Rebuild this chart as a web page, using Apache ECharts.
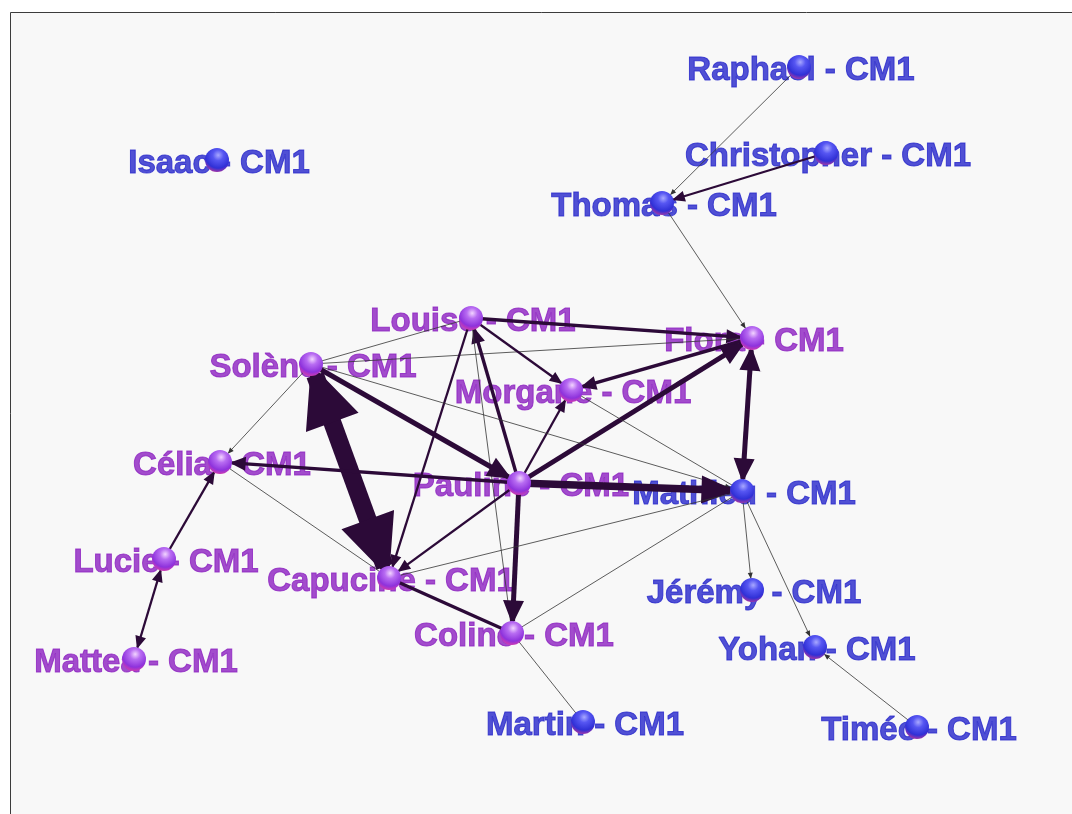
<!DOCTYPE html>
<html><head><meta charset="utf-8">
<script src="https://cdn.jsdelivr.net/npm/echarts@6/dist/echarts.min.js"></script>
<style>html,body{margin:0;padding:0;background:#ffffff;}#c{width:1072px;height:814px;}</style>
</head><body><div id="c"></div>
<script>
// ---- data ----
const nodeNames = ['Raphael - CM1','Isaac - CM1','Christopher - CM1','Thomas - CM1','Louise - CM1','Flora - CM1',
  'Solène - CM1','Morgane - CM1','Célia - CM1','Pauline - CM1','Mathieu - CM1','Lucie - CM1','Capucine - CM1',
  'Jérémy - CM1','Coline - CM1','Yohan - CM1','Mattea - CM1','Martin - CM1','Timéo - CM1'];
const nodeX = [799, 217, 826, 662, 471, 752, 311, 571, 220, 519, 742, 164, 389, 752, 512, 815, 134, 583, 917];
const nodeY = [67, 160, 153, 203, 318, 338, 364, 390, 462, 483, 491, 559, 578, 590, 633, 647, 659, 722, 727];
const nodeGroup = ['G','G','G','G','F','F','F','F','F','F','G','F','F','G','F','G','F','G','G'];

const edgeSource = ['Raphael - CM1','Christopher - CM1','Thomas - CM1','Louise - CM1','Solène - CM1','Solène - CM1',
  'Louise - CM1','Flora - CM1','Pauline - CM1','Pauline - CM1','Pauline - CM1','Louise - CM1','Louise - CM1',
  'Solène - CM1','Solène - CM1','Solène - CM1','Solène - CM1','Pauline - CM1','Célia - CM1','Lucie - CM1',
  'Lucie - CM1','Pauline - CM1','Pauline - CM1','Pauline - CM1','Capucine - CM1','Capucine - CM1','Coline - CM1',
  'Coline - CM1','Mathieu - CM1','Mathieu - CM1','Timéo - CM1','Flora - CM1','Morgane - CM1'];
const edgeTarget = ['Thomas - CM1','Thomas - CM1','Flora - CM1','Flora - CM1','Flora - CM1','Louise - CM1',
  'Morgane - CM1','Morgane - CM1','Flora - CM1','Morgane - CM1','Louise - CM1','Capucine - CM1','Coline - CM1',
  'Pauline - CM1','Capucine - CM1','Mathieu - CM1','Célia - CM1','Célia - CM1','Capucine - CM1','Célia - CM1',
  'Mattea - CM1','Mathieu - CM1','Capucine - CM1','Coline - CM1','Coline - CM1','Mathieu - CM1','Mathieu - CM1',
  'Martin - CM1','Jérémy - CM1','Yohan - CM1','Yohan - CM1','Mathieu - CM1','Mathieu - CM1'];
const edgeWeight = [1, 2, 1, 3, 1, 1, 2, 3, 4, 2, 3, 2, 1, 4, 8, 1, 1, 3, 1, 2, 2, 5, 2, 4, 3, 1, 1, 1, 1, 1, 1, 4, 1];
const edgeDirection = ['to','to','to','to','none','none','to','to','to','to','to','to','none','to','both','to','to','to',
  'none','to','both','to','to','to','none','none','none','none','to','to','to','both','none'];

// ---- styling helpers ----
const WIDTH = {1: 0.8, 2: 2.3, 3: 3.4, 4: 5, 5: 7.5, 8: 18};
const ARROW_L = {1: 6, 2: 13, 3: 16, 4: 24, 5: 34, 8: 62};
const ARROW_W = {1: 5, 2: 11, 3: 14, 4: 21, 5: 28, 8: 56};
const LABEL_COLOR = {F: '#8c20c0', G: '#2626ca'};

function sphere(g) {
  const stops = g === 'F'
    ? [[0, '#f2d4ff'], [0.3, '#b86cf2'], [0.72, '#8e32dc'], [1, '#e03ca6']]
    : [[0, '#a8a8ff'], [0.3, '#5656f2'], [0.72, '#3030d6'], [1, '#c0389a']];
  return {type: 'radial', x: 0.55, y: 0.3, r: 0.75,
    colorStops: stops.map(s => ({offset: s[0], color: s[1]}))};
}
function arrow(weight) {
  const L = ARROW_L[weight], W = ARROW_W[weight], lw = WIDTH[weight];
  const a = Math.min(L * 0.4, L * lw / W * 0.6);
  const h = Math.max(L - a, W / 2, a);
  const f = v => v.toFixed(2);
  return {
    path: 'path://M' + f(-h) + ',' + f(-h) + 'L' + f(h) + ',' + f(-h) +
      'M' + f(-h) + ',' + f(h) + 'L' + f(h) + ',' + f(h) +
      'M0,' + f(-a) + 'L' + f(W / 2) + ',' + f(L - a) + 'L' + f(-W / 2) + ',' + f(L - a) + 'Z',
    size: 2 * h
  };
}

const nodes = nodeNames.map((n, i) => ({
  name: n, value: [nodeX[i], nodeY[i]],
  itemStyle: {color: sphere(nodeGroup[i])}
}));
const labels = nodeNames.map((n, i) => ({
  name: n, value: [nodeX[i], nodeY[i]],
  label: {color: LABEL_COLOR[nodeGroup[i]], textBorderColor: LABEL_COLOR[nodeGroup[i]]}
}));
const links = edgeSource.map((s, i) => {
  const w = edgeWeight[i], d = edgeDirection[i];
  const ar = arrow(w);
  return {
    source: s, target: edgeTarget[i],
    symbol: [d === 'both' ? ar.path : 'none', d === 'none' ? 'none' : ar.path],
    symbolSize: [ar.size, ar.size],
    lineStyle: {width: WIDTH[w], color: w === 1 ? '#333333' : '#2c0a38', opacity: 1, curveness: 0}
  };
});

const chart = echarts.init(document.getElementById('c'), null, {renderer: 'canvas'});
chart.setOption({
  animation: false,
  backgroundColor: '#ffffff',
  grid: {left: 10, top: 12, right: 0, bottom: 0, show: true, backgroundColor: '#f8f8f8', borderWidth: 0},
  xAxis: {type: 'value', min: 10, max: 1072, show: false},
  yAxis: {type: 'value', min: 12, max: 814, inverse: true, show: false},
  graphic: [{
    type: 'polyline', silent: true, z: 100,
    shape: {points: [[10.5, 814], [10.5, 12.5], [1072, 12.5]]},
    style: {stroke: '#3c3c3c', lineWidth: 1, fill: null}
  }],
  series: [
    {
      type: 'scatter', z: 1, silent: true, symbolSize: 1,
      itemStyle: {color: 'rgba(0,0,0,0)'},
      label: {show: true, position: 'inside', offset: [2, 4], formatter: '{b}',
        fontSize: 33, fontWeight: 'bold', textBorderWidth: 1,
        fontFamily: '"Liberation Sans", Arial, sans-serif'},
      data: labels
    },
    {
      type: 'graph', z: 2, coordinateSystem: 'cartesian2d', silent: true,
      symbol: 'circle', symbolSize: 24,
      label: {show: false},
      edgeSymbol: ['none', 'none'],
      data: nodes,
      links: links
    }
  ]
});
</script></body></html>
